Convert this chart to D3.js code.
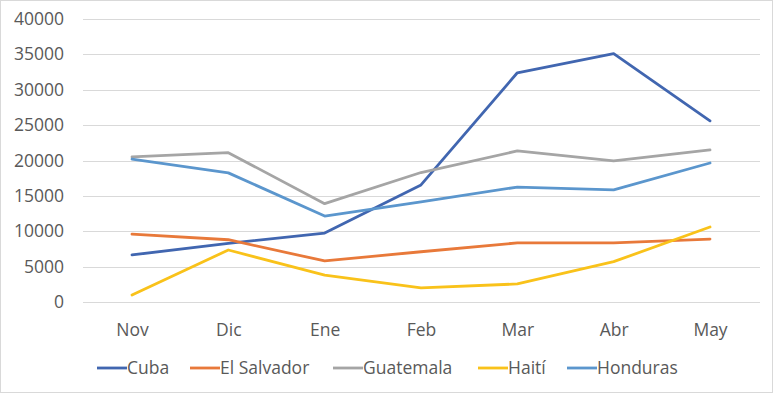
<!DOCTYPE html>
<html><head><meta charset="utf-8">
<script src="https://cdn.jsdelivr.net/npm/d3@7"></script>
<style>body{margin:0;background:#fff}svg{display:block}</style>
</head><body>
<svg id="c" width="774" height="394"></svg>
<script>
const months = ["Nov","Dic","Ene","Feb","Mar","Abr","May"];
const cuba = [6650, 8300, 9750, 16550, 32400, 35100, 25600];
const elSalvador = [9600, 8800, 5800, 7100, 8350, 8350, 8900];
const guatemala = [20500, 21100, 13900, 18300, 21350, 19950, 21500];
const haiti = [1000, 7350, 3800, 2000, 2550, 5700, 10600];
const honduras = [20200, 18250, 12150, 14150, 16250, 15850, 19650];
const seriesNames = ["Cuba","El Salvador","Guatemala","Haití","Honduras"];
const yTicks = [0,5000,10000,15000,20000,25000,30000,35000,40000];

const series = [
  {name: seriesNames[0], values: cuba, color: "#4166B0"},
  {name: seriesNames[1], values: elSalvador, color: "#E8793A"},
  {name: seriesNames[2], values: guatemala, color: "#A5A5A5"},
  {name: seriesNames[3], values: haiti, color: "#F9C21A"},
  {name: seriesNames[4], values: honduras, color: "#5B96CD"}
];

const svg = d3.select("#c");
const font = "'Open Sans', sans-serif";
const fs = "17.5px";
svg.append("rect").attr("x",0.5).attr("y",0.5).attr("width",772).attr("height",392)
  .attr("fill","#fff").attr("stroke","#d9d9d9");

const x = d3.scalePoint().domain(months).range([132, 710]);
const y = d3.scaleLinear().domain([0, 40000]).range([302, 19]);

const grid = svg.append("g");
grid.selectAll("line").data(yTicks).join("line")
  .attr("x1", 83).attr("x2", 760)
  .attr("y1", d => Math.round(y(d)) + 0.5).attr("y2", d => Math.round(y(d)) + 0.5)
  .attr("stroke", "#d9d9d9").attr("stroke-width", 1);

const yAxis = svg.append("g").attr("transform","translate(64,0)")
  .call(d3.axisLeft(y).tickValues(yTicks).tickSize(0).tickPadding(0).tickFormat(d3.format("d")));
yAxis.select(".domain").remove();
yAxis.selectAll("text").attr("fill","#595959").style("font-family",font).style("font-size",fs);

const xAxis = svg.append("g").attr("transform","translate(0,302)")
  .call(d3.axisBottom(x).tickSize(0).tickPadding(22));
xAxis.select(".domain").remove();
xAxis.selectAll("text").attr("fill","#595959").style("font-family",font).style("font-size",fs);

const line = d3.line().x((d,i) => x(months[i])).y(d => y(d));
svg.append("g").selectAll("path").data(series).join("path")
  .attr("d", d => line(d.values)).attr("fill","none")
  .attr("stroke", d => d.color).attr("stroke-width", 2.8)
  .attr("stroke-linejoin","round").attr("stroke-linecap","round");

const legX = [97, 190, 333, 478, 567];
const leg = svg.append("g").selectAll("g").data(series).join("g")
  .attr("transform", (d,i) => `translate(${legX[i]},368)`);
leg.append("line").attr("x1",0).attr("x2",30).attr("y1",0).attr("y2",0)
  .attr("stroke", d => d.color).attr("stroke-width", 2.8);
leg.append("text").attr("x",30).attr("y",0).attr("dy","0.35em")
  .attr("fill","#595959").style("font-family",font).style("font-size",fs)
  .text(d => d.name);
</script>
</body></html>
